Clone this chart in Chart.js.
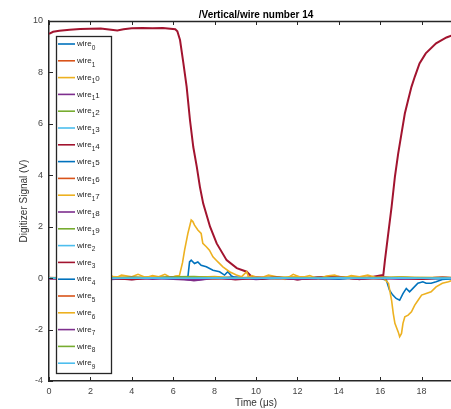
<!DOCTYPE html>
<html>
<head>
<meta charset="utf-8">
<script src="https://cdn.jsdelivr.net/npm/chart.js@4.4.1/dist/chart.umd.min.js"></script>
<style>
  html, body { margin: 0; padding: 0; background: #fff; }
  #wrap { width: 451px; height: 409px; overflow: hidden; }
</style>
</head>
<body>
<div id="wrap"><canvas id="grafico" width="465" height="409"></canvas></div>
<script>
// etiquetas del legend (orden de MATLAB)
const nombres = ["wire_0","wire_1","wire_10","wire_11","wire_12","wire_13","wire_14","wire_15","wire_16","wire_17",
  "wire_18","wire_19","wire_2","wire_3","wire_4","wire_5","wire_6","wire_7","wire_8","wire_9"];
const colores = ["#0072BD","#D95319","#EDB120","#7E2F8E","#77AC30","#4DBEEE","#A2142F"];

// el 20 queda fuera de la imagen
const xTicks = [0,2,4,6,8,10,12,14,16,18];
const yTicks = [-4,-2,0,2,4,6,8,10];

// wire 14 (rojo)
const tRed = [0,0.2,0.5,1,1.5,2,2.5,3,3.3,3.6,4,4.5,5,5.5,6.1,6.2,6.33,6.49,6.65,6.81,6.97,7.14,7.29,7.45,7.78,
  8.1,8.58,9.07,9.55,9.8,10.3,11,12,13,14,15,16,16.15,16.23,16.39,16.55,16.71,16.87,17.03,17.19,17.35,17.51,17.67,
  17.9,18.2,18.7,19.2,19.6,20];
const vRed = [9.5,9.58,9.62,9.66,9.69,9.7,9.71,9.66,9.63,9.68,9.72,9.73,9.72,9.73,9.68,9.6,9.26,8.37,7.44,6.15,5.1,
  4.33,3.55,2.9,2.0,1.35,0.7,0.39,0.25,0.05,-0.03,0.04,-0.05,0.03,0.05,-0.04,0.1,0.12,0.7,1.74,2.77,3.94,4.85,5.63,
  6.4,6.93,7.44,7.83,8.35,8.74,9.13,9.36,9.48,9.55];

// wire 15 (azul)
const tBlue = [0,1,2,3,4,5,6,6.5,6.71,6.79,6.87,7.03,7.19,7.35,7.6,7.92,8.24,8.48,8.64,8.8,9.0,10,11,12,13,14,15,16,
  16.3,16.45,16.6,16.77,16.94,17.1,17.26,17.42,17.58,17.82,18.06,18.22,18.46,18.7,19.0,19.5,20];
const vBlue = [0,0.02,0,-0.02,0.02,0,0.02,0.02,0.05,0.63,0.7,0.57,0.63,0.5,0.44,0.31,0.25,0.12,0.25,0.1,0.0,0.02,
  -0.02,0.02,0,0.02,-0.02,0,-0.08,-0.47,-0.65,-0.79,-0.86,-0.6,-0.4,-0.53,-0.4,-0.2,-0.14,-0.2,-0.2,-0.14,-0.05,-0.02,0];

// wire 17 (amarillo)
const tYel = [0,0.5,1,1.5,2,2.5,3,3.2,3.5,4,4.3,4.7,5,5.3,5.6,5.9,6.1,6.3,6.45,6.55,6.71,6.87,6.95,7.03,7.19,7.35,
  7.43,7.6,7.75,7.92,8.16,8.4,8.72,9.05,9.3,9.55,9.65,9.8,10.2,10.6,11,11.4,11.8,12.2,12.6,13,13.4,13.8,14.2,14.6,
  15,15.4,15.8,16.1,16.4,16.55,16.63,16.71,16.87,16.94,17.03,17.1,17.19,17.35,17.51,17.67,17.83,18.0,18.22,18.46,
  18.7,19.0,19.3,19.6,20];
const vYel = [0,0.02,0.05,0.0,0.08,0.03,0.1,0.0,0.12,0.05,0.15,0.02,0.1,0.05,0.15,0.02,0.08,0.1,0.6,1.09,1.74,2.26,
  2.2,2.06,1.87,1.74,1.35,1.22,1.09,0.83,0.63,0.44,0.25,0.12,0.05,0.25,0.02,0.1,0.0,0.12,0.05,-0.05,0.15,0.02,0.1,
  -0.03,0.08,0.12,0.0,0.1,0.05,0.12,0.02,0.05,-0.2,-0.86,-1.37,-1.76,-2.09,-2.28,-2.15,-1.76,-1.5,-1.44,-1.31,-1.05,
  -0.86,-0.66,-0.6,-0.53,-0.34,-0.2,-0.14,-0.05,0];

// resto de cables, casi planos
const tFlat = [0,1,2,3,4,5,6,7,8,9,10,11,12,13,14,15,16,17,18,19,20];
const w0  = [0,0.02,-0.02,0,0.03,0,-0.02,0.02,0,0.03,-0.02,0,0.02,0,-0.03,0.02,0,0.02,0,-0.02,0];
const w1  = [0.02,0,0.03,-0.02,0,0.02,0,-0.03,0.02,0,0.03,0,-0.02,0.02,0,0,0.03,-0.02,0,0.02,0];
const w10 = [0,0.03,0,0.02,-0.02,0.03,0,0.04,0,-0.02,0.02,0,0.03,0,0.02,-0.02,0,0.03,0,0.02,0];
const w11 = [-0.03,0,0.02,-0.05,0,0.03,-0.04,-0.08,0,0.03,-0.05,0,0.02,-0.04,0,0.03,-0.02,0,-0.04,0,0.02];
const w12 = [0,0.02,0,0.03,0,0.02,0.05,0.06,0.02,0,0.02,0,0.03,0,0.02,0,0.03,0,0.02,0,0];
const w13 = [0,0.01,0,0.02,0,0.01,0.02,0.01,0,0.02,0,0.01,0,0.02,0,0.01,0,0.02,0,0.01,0];
const w16 = [0,-0.02,0.02,0,-0.03,0.02,0,0.03,-0.02,0,0.02,-0.02,0,0.02,0,-0.02,0.03,0,-0.02,0,0.02];
const w18 = [0,-0.04,0.02,0,-0.05,0,0.03,-0.1,0,-0.04,0,0.03,-0.05,0,-0.02,0.03,0,-0.03,0,0.02,-0.02];
const w19 = [0,0.02,0,0.01,0.02,0,0.03,0.05,0.02,0,0.01,0.02,0,0.02,0.01,0,0.02,0.03,0,0.01,0];
const w2  = [0,0.01,0,-0.01,0.01,0,0.01,0,-0.01,0.01,0,0.01,0,-0.01,0,0.01,0,0.01,0,-0.01,0];
const w3  = [0,-0.04,0.03,0,-0.06,0.02,0,-0.05,0.04,-0.06,0,0.03,-0.05,0,0.04,-0.04,0.02,0,-0.04,0.02,0];
const w4  = [0,0.01,-0.01,0,0.02,0,-0.01,0.01,0,0.02,-0.01,0,0.01,0,-0.02,0.01,0,0.01,0,-0.01,0];
const w5  = [0.01,0,-0.02,0.02,0,-0.01,0.02,0,-0.02,0.01,0,0.02,-0.01,0,0.02,0,-0.02,0.01,0,0.02,0];
const w6  = [0,0.04,0,0.06,0.02,0.05,0,0.03,0.06,0,0.04,0.02,0.06,0,0.03,0.05,0,0.04,0.02,0.03,0];
const w7  = [0,-0.03,0,-0.02,0.02,-0.04,0,-0.06,0,-0.03,0.02,0,-0.04,0,0.02,-0.03,0,-0.02,0,0.02,0];
const w8  = [0,0.02,0.01,0,0.02,0.01,0.03,0.04,0.02,0.01,0,0.02,0.01,0,0.02,0.01,0,0.02,0.01,0,0];
const w9  = [0,0,0.01,0,0,0.01,0,0,0.01,0,0,0.01,0,0,0.01,0,0,0.01,0,0,0];

const series = {
  wire_0:[tFlat,w0], wire_1:[tFlat,w1], wire_10:[tFlat,w10], wire_11:[tFlat,w11], wire_12:[tFlat,w12],
  wire_13:[tFlat,w13], wire_14:[tRed,vRed], wire_15:[tBlue,vBlue], wire_16:[tFlat,w16], wire_17:[tYel,vYel],
  wire_18:[tFlat,w18], wire_19:[tFlat,w19], wire_2:[tFlat,w2], wire_3:[tFlat,w3], wire_4:[tFlat,w4],
  wire_5:[tFlat,w5], wire_6:[tFlat,w6], wire_7:[tFlat,w7], wire_8:[tFlat,w8], wire_9:[tFlat,w9]
};

const FUENTE = "'Liberation Sans', Arial, Helvetica, sans-serif";
const EJE = "#262626";

function generarDatasets(){
  let ds = [];
  for(let i=0;i<nombres.length;i++){
    let [t, v] = series[nombres[i]];
    ds.push({
      label: nombres[i],
      data: t.map((x, k) => ({x: x, y: v[k]})),
      borderColor: colores[i % 7],
      backgroundColor: colores[i % 7],
      borderWidth: nombres[i] == "wire_14" ? 2 : 1.6,
      pointRadius: 0,
      tension: 0,
      order: nombres.length - i   // el ultimo queda arriba, como en MATLAB
    });
  }
  return ds;
}

// ticks hacia adentro, borde superior y leyenda dentro del grafico
const extras = {
  id: 'extras',
  afterDraw(chart){
    const ctx = chart.ctx;
    const a = chart.chartArea;
    const sx = chart.scales.x, sy = chart.scales.y;
    ctx.save();
    ctx.strokeStyle = EJE;
    ctx.lineWidth = 1.5;
    ctx.beginPath();
    ctx.moveTo(a.left, a.top + 0.5);
    ctx.lineTo(a.right, a.top + 0.5);
    ctx.stroke();
    ctx.lineWidth = 1;
    ctx.beginPath();
    xTicks.forEach(v => {
      let px = Math.round(sx.getPixelForValue(v)) + 0.5;
      ctx.moveTo(px, a.bottom); ctx.lineTo(px, a.bottom - 4);
      ctx.moveTo(px, a.top); ctx.lineTo(px, a.top + 4);
    });
    yTicks.forEach(v => {
      let py = Math.round(sy.getPixelForValue(v)) + 0.5;
      ctx.moveTo(a.left, py); ctx.lineTo(a.left + 4, py);
    });
    ctx.stroke();

    // leyenda
    const bx = 56, by = 36, bw = 55, bh = 337;
    ctx.fillStyle = "#fff";
    ctx.fillRect(bx, by, bw, bh);
    ctx.strokeStyle = EJE;
    ctx.lineWidth = 1.3;
    ctx.strokeRect(bx + 0.5, by + 0.5, bw, bh);
    chart.data.datasets.forEach((d, i) => {
      let y = 44 + i * 16.8;
      ctx.strokeStyle = d.borderColor;
      ctx.lineWidth = 1.6;
      ctx.beginPath();
      ctx.moveTo(58, y); ctx.lineTo(75, y);
      ctx.stroke();
      let partes = d.label.split("_");
      let sub = partes[1].charAt(0);
      let resto = partes[1].slice(1);
      ctx.fillStyle = EJE;
      ctx.textBaseline = "middle";
      ctx.textAlign = "left";
      ctx.font = "8px " + FUENTE;
      ctx.fillText(partes[0], 77, y);
      let x = 77 + ctx.measureText(partes[0]).width;
      ctx.font = "6.5px " + FUENTE;
      ctx.fillText(sub, x, y + 4);
      x += ctx.measureText(sub).width;
      if(resto){
        ctx.font = "8px " + FUENTE;
        ctx.fillText(resto, x, y + 1.5);
      }
    });
    ctx.restore();
  }
};

function mostrarGrafico(){
  const ctx = document.getElementById('grafico').getContext('2d');
  const grafico = new Chart(ctx, {
    type: 'line',
    data: { datasets: generarDatasets() },
    plugins: [extras],
    options: {
      responsive: false,
      animation: false,
      devicePixelRatio: 1,
      layout: { padding: { top: 0, left: 0, right: 2, bottom: 0 } },
      scales: {
        x: {
          type: 'linear', min: 0, max: 20,
          afterFit: s => { s.height = 28; },
          afterBuildTicks: s => { s.ticks = xTicks.map(v => ({value: v})); },
          ticks: { color: "#444", font: { family: FUENTE, size: 9 }, padding: 5, maxRotation: 0 },
          grid: { drawOnChartArea: false, drawTicks: false },
          border: { color: EJE, width: 1.5 },
          title: { display: true, text: "Time (μs)", color: "#333", font: { family: FUENTE, size: 10 }, padding: 0 }
        },
        y: {
          type: 'linear', min: -4, max: 10,
          afterFit: s => { s.width = 49; },
          afterBuildTicks: s => { s.ticks = yTicks.map(v => ({value: v})); },
          ticks: { color: "#444", font: { family: FUENTE, size: 9 }, padding: 6 },
          grid: { drawOnChartArea: false, drawTicks: false },
          border: { color: EJE, width: 1.5 },
          title: { display: true, text: "Digitizer Signal (V)", color: "#333", font: { family: FUENTE, size: 10 },
                   padding: { top: 18, bottom: 0 } }
        }
      },
      plugins: {
        legend: { display: false },
        tooltip: { enabled: false },
        title: {
          display: true,
          text: "/Vertical/wire number 14",
          fullSize: false,
          color: "#000",
          font: { family: FUENTE, size: 10, weight: 'bold', lineHeight: 1.2 },
          padding: { top: 9, bottom: 0 }
        }
      }
    }
  });
}

window.addEventListener("load", mostrarGrafico);
</script>
</body>
</html>
